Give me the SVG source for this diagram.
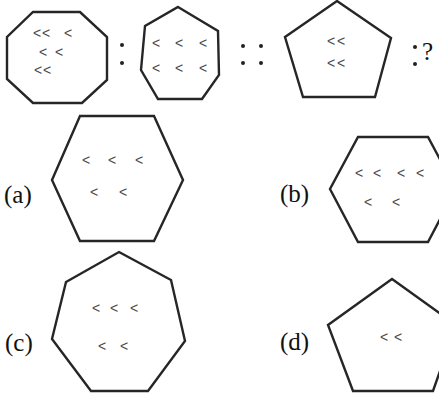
<svg xmlns="http://www.w3.org/2000/svg" width="439" height="398" viewBox="0 0 439 398">
<style>
.shape{fill:none;stroke:#262626;stroke-width:2.4;stroke-linejoin:miter}
.ch{font-family:"Liberation Sans",Arial,sans-serif;font-size:14px;fill:#4a4a4a}
.lbl{font-family:"Liberation Serif","Times New Roman",serif;font-size:25px;fill:#111}
.dot{fill:#222}
</style>
<rect width="439" height="398" fill="#fff"/>
<g id="q1">
<polygon class="shape" points="33,12 80,12 107,37 107,80 82,103 33,103 7,79 7,37"/>
<text class="ch" x="33 42 64" y="38">&lt;&lt;&lt;</text>
<text class="ch" x="39 55" y="57">&lt;&lt;</text>
<text class="ch" x="34 43" y="75">&lt;&lt;</text>
</g>
<g id="sep1"><circle class="dot" cx="122" cy="45" r="2"/><circle class="dot" cx="122" cy="63" r="2"/></g>
<g id="q2">
<polygon class="shape" points="178,7 218,31 219,75 202,99 158,99 141,70 145,26"/>
<text class="ch" x="152 175 199" y="48">&lt;&lt;&lt;</text>
<text class="ch" x="152 175 199" y="73">&lt;&lt;&lt;</text>
</g>
<g id="sep2"><circle class="dot" cx="243" cy="46" r="2"/><circle class="dot" cx="261" cy="46" r="2"/><circle class="dot" cx="243" cy="63" r="2"/><circle class="dot" cx="261" cy="63" r="2"/></g>
<g id="q3">
<polygon class="shape" points="337,1 391,38 375,97 303,97 285,37"/>
<text class="ch" x="327 337" y="46">&lt;&lt;</text>
<text class="ch" x="327 337" y="68">&lt;&lt;</text>
</g>
<g id="sep3"><circle class="dot" cx="415" cy="47" r="2"/><circle class="dot" cx="415" cy="64" r="2"/>
<text class="lbl" x="422" y="60">?</text></g>
<g id="optA">
<text class="lbl" x="4" y="203">(a)</text>
<polygon class="shape" points="80,116 154,116 183,180 154,241 80,241 52,180"/>
<text class="ch" x="82 108 135" y="165">&lt;&lt;&lt;</text>
<text class="ch" x="90 119" y="197">&lt;&lt;</text>
</g>
<g id="optB">
<text class="lbl" x="280" y="202">(b)</text>
<polygon class="shape" points="358,137 428,137 456,189 428,242 358,242 330,189"/>
<text class="ch" x="355 373 397 416" y="178">&lt;&lt;&lt;&lt;</text>
<text class="ch" x="364 392" y="207">&lt;&lt;</text>
</g>
<g id="optC">
<text class="lbl" x="5" y="351">(c)</text>
<polygon class="shape" points="119,252 171,280 185,341 148,391 91,391 52,339 66,282"/>
<text class="ch" x="92 110 130" y="313">&lt;&lt;&lt;</text>
<text class="ch" x="98 120" y="351">&lt;&lt;</text>
</g>
<g id="optD">
<text class="lbl" x="280" y="350">(d)</text>
<polygon class="shape" points="392,279 456,325 433,391 353,391 328,325"/>
<text class="ch" x="380 394" y="342">&lt;&lt;</text>
</g>
<g id="connectors"/>
</svg>
